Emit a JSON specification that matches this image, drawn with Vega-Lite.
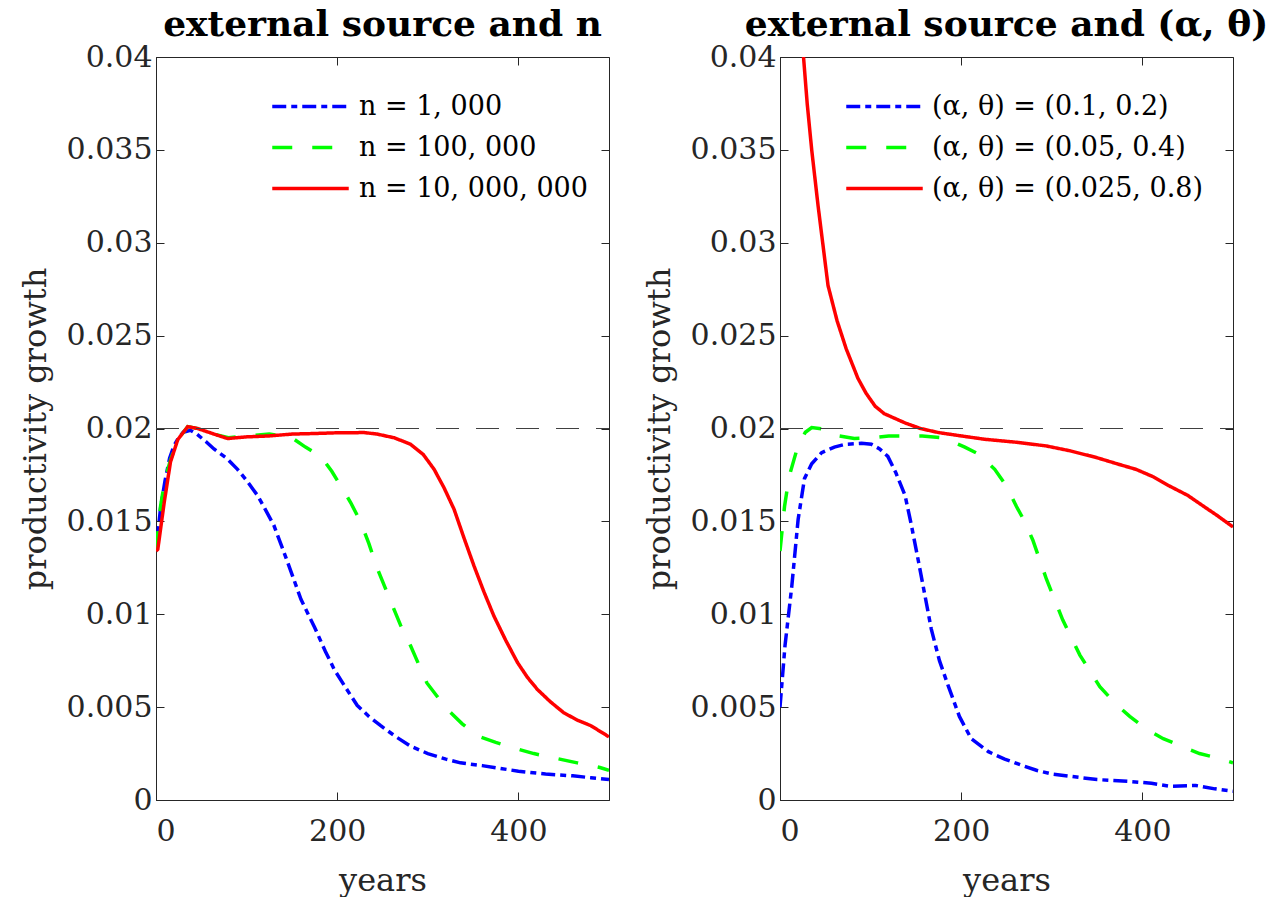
{
  "$schema": "https://vega.github.io/schema/vega-lite/v6.json",
  "background": "white",
  "padding": {"left": 18, "top": 6, "right": 5, "bottom": 0},
  "bounds": "flush",
  "spacing": 171,
  "config": {
    "font": "DejaVu Serif",
    "view": {"stroke": "#262626", "strokeWidth": 1},
    "axis": {
      "grid": false,
      "domainColor": "#262626",
      "tickColor": "#262626",
      "labelColor": "#262626",
      "titleColor": "#262626",
      "labelFont": "DejaVu Serif",
      "titleFont": "DejaVu Serif",
      "labelFontSize": 30,
      "titleFontSize": 32,
      "titleFontWeight": "normal",
      "tickSize": -8,
      "tickWidth": 1,
      "domainWidth": 1
    },
    "legend": {"labelLimit": 500},
    "title": {"font": "DejaVu Serif", "fontSize": 36, "fontWeight": "bold", "color": "#000000", "offset": -2}
  },
  "datasets": {
    "left": [
      {"s": "n = 1, 000", "year": 0, "g": 0.0134},
      {"s": "n = 1, 000", "year": 5, "g": 0.0157},
      {"s": "n = 1, 000", "year": 10, "g": 0.0172},
      {"s": "n = 1, 000", "year": 15, "g": 0.0184},
      {"s": "n = 1, 000", "year": 20, "g": 0.0191},
      {"s": "n = 1, 000", "year": 25, "g": 0.0195},
      {"s": "n = 1, 000", "year": 30, "g": 0.0198},
      {"s": "n = 1, 000", "year": 38, "g": 0.0199},
      {"s": "n = 1, 000", "year": 45, "g": 0.0197},
      {"s": "n = 1, 000", "year": 55, "g": 0.0193},
      {"s": "n = 1, 000", "year": 64, "g": 0.0189},
      {"s": "n = 1, 000", "year": 78, "g": 0.0184},
      {"s": "n = 1, 000", "year": 90, "g": 0.0178},
      {"s": "n = 1, 000", "year": 100, "g": 0.0172},
      {"s": "n = 1, 000", "year": 112, "g": 0.0164},
      {"s": "n = 1, 000", "year": 120, "g": 0.0157},
      {"s": "n = 1, 000", "year": 130, "g": 0.0148},
      {"s": "n = 1, 000", "year": 140, "g": 0.0135},
      {"s": "n = 1, 000", "year": 149, "g": 0.0123},
      {"s": "n = 1, 000", "year": 160, "g": 0.0108},
      {"s": "n = 1, 000", "year": 175, "g": 0.0093},
      {"s": "n = 1, 000", "year": 187, "g": 0.0080},
      {"s": "n = 1, 000", "year": 197, "g": 0.0070},
      {"s": "n = 1, 000", "year": 210, "g": 0.0060},
      {"s": "n = 1, 000", "year": 222, "g": 0.0051},
      {"s": "n = 1, 000", "year": 235, "g": 0.0045},
      {"s": "n = 1, 000", "year": 248, "g": 0.0040},
      {"s": "n = 1, 000", "year": 265, "g": 0.0034},
      {"s": "n = 1, 000", "year": 281, "g": 0.0029},
      {"s": "n = 1, 000", "year": 300, "g": 0.0025},
      {"s": "n = 1, 000", "year": 320, "g": 0.0022},
      {"s": "n = 1, 000", "year": 336, "g": 0.0020},
      {"s": "n = 1, 000", "year": 360, "g": 0.00185},
      {"s": "n = 1, 000", "year": 380, "g": 0.0017},
      {"s": "n = 1, 000", "year": 400, "g": 0.00155},
      {"s": "n = 1, 000", "year": 430, "g": 0.0014},
      {"s": "n = 1, 000", "year": 460, "g": 0.0013},
      {"s": "n = 1, 000", "year": 480, "g": 0.0012},
      {"s": "n = 1, 000", "year": 500, "g": 0.0011},

      {"s": "n = 100, 000", "year": 0, "g": 0.0134},
      {"s": "n = 100, 000", "year": 5, "g": 0.0158},
      {"s": "n = 100, 000", "year": 10, "g": 0.0173},
      {"s": "n = 100, 000", "year": 16, "g": 0.0183},
      {"s": "n = 100, 000", "year": 24, "g": 0.0194},
      {"s": "n = 100, 000", "year": 35, "g": 0.0201},
      {"s": "n = 100, 000", "year": 46, "g": 0.0200},
      {"s": "n = 100, 000", "year": 64, "g": 0.0197},
      {"s": "n = 100, 000", "year": 80, "g": 0.0195},
      {"s": "n = 100, 000", "year": 100, "g": 0.0196},
      {"s": "n = 100, 000", "year": 125, "g": 0.0197},
      {"s": "n = 100, 000", "year": 140, "g": 0.0196},
      {"s": "n = 100, 000", "year": 153, "g": 0.0194},
      {"s": "n = 100, 000", "year": 165, "g": 0.0190},
      {"s": "n = 100, 000", "year": 182, "g": 0.0185},
      {"s": "n = 100, 000", "year": 194, "g": 0.0177},
      {"s": "n = 100, 000", "year": 204, "g": 0.0169},
      {"s": "n = 100, 000", "year": 215, "g": 0.0160},
      {"s": "n = 100, 000", "year": 226, "g": 0.01495},
      {"s": "n = 100, 000", "year": 235, "g": 0.0138},
      {"s": "n = 100, 000", "year": 244, "g": 0.0125},
      {"s": "n = 100, 000", "year": 259, "g": 0.0107},
      {"s": "n = 100, 000", "year": 270, "g": 0.0094},
      {"s": "n = 100, 000", "year": 281, "g": 0.0083},
      {"s": "n = 100, 000", "year": 299, "g": 0.0063},
      {"s": "n = 100, 000", "year": 310, "g": 0.0056},
      {"s": "n = 100, 000", "year": 321, "g": 0.0049},
      {"s": "n = 100, 000", "year": 338, "g": 0.0041},
      {"s": "n = 100, 000", "year": 355, "g": 0.00344},
      {"s": "n = 100, 000", "year": 375, "g": 0.0031},
      {"s": "n = 100, 000", "year": 395, "g": 0.0028},
      {"s": "n = 100, 000", "year": 417, "g": 0.0025},
      {"s": "n = 100, 000", "year": 439, "g": 0.00227},
      {"s": "n = 100, 000", "year": 465, "g": 0.0020},
      {"s": "n = 100, 000", "year": 490, "g": 0.00175},
      {"s": "n = 100, 000", "year": 500, "g": 0.0016},

      {"s": "n = 10, 000, 000", "year": 0, "g": 0.0134},
      {"s": "n = 10, 000, 000", "year": 2, "g": 0.0135},
      {"s": "n = 10, 000, 000", "year": 9, "g": 0.0160},
      {"s": "n = 10, 000, 000", "year": 16, "g": 0.0182},
      {"s": "n = 10, 000, 000", "year": 24, "g": 0.0194},
      {"s": "n = 10, 000, 000", "year": 35, "g": 0.0201},
      {"s": "n = 10, 000, 000", "year": 46, "g": 0.0200},
      {"s": "n = 10, 000, 000", "year": 64, "g": 0.0197},
      {"s": "n = 10, 000, 000", "year": 79, "g": 0.01946},
      {"s": "n = 10, 000, 000", "year": 100, "g": 0.01955},
      {"s": "n = 10, 000, 000", "year": 125, "g": 0.0196},
      {"s": "n = 10, 000, 000", "year": 150, "g": 0.0197},
      {"s": "n = 10, 000, 000", "year": 175, "g": 0.01973},
      {"s": "n = 10, 000, 000", "year": 200, "g": 0.01977},
      {"s": "n = 10, 000, 000", "year": 230, "g": 0.01978},
      {"s": "n = 10, 000, 000", "year": 244, "g": 0.0197},
      {"s": "n = 10, 000, 000", "year": 263, "g": 0.0195},
      {"s": "n = 10, 000, 000", "year": 281, "g": 0.01915},
      {"s": "n = 10, 000, 000", "year": 295, "g": 0.0186},
      {"s": "n = 10, 000, 000", "year": 307, "g": 0.0178},
      {"s": "n = 10, 000, 000", "year": 318, "g": 0.0168},
      {"s": "n = 10, 000, 000", "year": 329, "g": 0.01565},
      {"s": "n = 10, 000, 000", "year": 340, "g": 0.0141},
      {"s": "n = 10, 000, 000", "year": 351, "g": 0.0126},
      {"s": "n = 10, 000, 000", "year": 362, "g": 0.0112},
      {"s": "n = 10, 000, 000", "year": 373, "g": 0.0099},
      {"s": "n = 10, 000, 000", "year": 386, "g": 0.0086},
      {"s": "n = 10, 000, 000", "year": 399, "g": 0.0074},
      {"s": "n = 10, 000, 000", "year": 410, "g": 0.0066},
      {"s": "n = 10, 000, 000", "year": 421, "g": 0.00595},
      {"s": "n = 10, 000, 000", "year": 435, "g": 0.0053},
      {"s": "n = 10, 000, 000", "year": 450, "g": 0.0047},
      {"s": "n = 10, 000, 000", "year": 465, "g": 0.0043},
      {"s": "n = 10, 000, 000", "year": 480, "g": 0.0040},
      {"s": "n = 10, 000, 000", "year": 500, "g": 0.0034}
    ],
    "right": [
      {"s": "(α, θ) = (0.1, 0.2)", "year": 0, "g": 0.0050},
      {"s": "(α, θ) = (0.1, 0.2)", "year": 5.5, "g": 0.0083},
      {"s": "(α, θ) = (0.1, 0.2)", "year": 13, "g": 0.0115},
      {"s": "(α, θ) = (0.1, 0.2)", "year": 20, "g": 0.0151},
      {"s": "(α, θ) = (0.1, 0.2)", "year": 27, "g": 0.0173},
      {"s": "(α, θ) = (0.1, 0.2)", "year": 35, "g": 0.0181},
      {"s": "(α, θ) = (0.1, 0.2)", "year": 46, "g": 0.0187},
      {"s": "(α, θ) = (0.1, 0.2)", "year": 60, "g": 0.0190},
      {"s": "(α, θ) = (0.1, 0.2)", "year": 72, "g": 0.01915},
      {"s": "(α, θ) = (0.1, 0.2)", "year": 90, "g": 0.0192},
      {"s": "(α, θ) = (0.1, 0.2)", "year": 101, "g": 0.01915},
      {"s": "(α, θ) = (0.1, 0.2)", "year": 110, "g": 0.0189},
      {"s": "(α, θ) = (0.1, 0.2)", "year": 119, "g": 0.0185},
      {"s": "(α, θ) = (0.1, 0.2)", "year": 128, "g": 0.0176},
      {"s": "(α, θ) = (0.1, 0.2)", "year": 138, "g": 0.0164},
      {"s": "(α, θ) = (0.1, 0.2)", "year": 145, "g": 0.0148},
      {"s": "(α, θ) = (0.1, 0.2)", "year": 153, "g": 0.0128},
      {"s": "(α, θ) = (0.1, 0.2)", "year": 160, "g": 0.0110},
      {"s": "(α, θ) = (0.1, 0.2)", "year": 167, "g": 0.0092},
      {"s": "(α, θ) = (0.1, 0.2)", "year": 176, "g": 0.0075},
      {"s": "(α, θ) = (0.1, 0.2)", "year": 186, "g": 0.0061},
      {"s": "(α, θ) = (0.1, 0.2)", "year": 198, "g": 0.0045},
      {"s": "(α, θ) = (0.1, 0.2)", "year": 211, "g": 0.0033},
      {"s": "(α, θ) = (0.1, 0.2)", "year": 230, "g": 0.0026},
      {"s": "(α, θ) = (0.1, 0.2)", "year": 248, "g": 0.0022},
      {"s": "(α, θ) = (0.1, 0.2)", "year": 265, "g": 0.0019},
      {"s": "(α, θ) = (0.1, 0.2)", "year": 283, "g": 0.0016},
      {"s": "(α, θ) = (0.1, 0.2)", "year": 300, "g": 0.0014},
      {"s": "(α, θ) = (0.1, 0.2)", "year": 320, "g": 0.00128},
      {"s": "(α, θ) = (0.1, 0.2)", "year": 350, "g": 0.0011},
      {"s": "(α, θ) = (0.1, 0.2)", "year": 385, "g": 0.0010},
      {"s": "(α, θ) = (0.1, 0.2)", "year": 410, "g": 0.0009},
      {"s": "(α, θ) = (0.1, 0.2)", "year": 430, "g": 0.00074},
      {"s": "(α, θ) = (0.1, 0.2)", "year": 459, "g": 0.00078},
      {"s": "(α, θ) = (0.1, 0.2)", "year": 480, "g": 0.0006},
      {"s": "(α, θ) = (0.1, 0.2)", "year": 500, "g": 0.00047},

      {"s": "(α, θ) = (0.05, 0.4)", "year": 0, "g": 0.0134},
      {"s": "(α, θ) = (0.05, 0.4)", "year": 5, "g": 0.0158},
      {"s": "(α, θ) = (0.05, 0.4)", "year": 10, "g": 0.0174},
      {"s": "(α, θ) = (0.05, 0.4)", "year": 20, "g": 0.0191},
      {"s": "(α, θ) = (0.05, 0.4)", "year": 28, "g": 0.0198},
      {"s": "(α, θ) = (0.05, 0.4)", "year": 35, "g": 0.02005},
      {"s": "(α, θ) = (0.05, 0.4)", "year": 49, "g": 0.01996},
      {"s": "(α, θ) = (0.05, 0.4)", "year": 65, "g": 0.0196},
      {"s": "(α, θ) = (0.05, 0.4)", "year": 82, "g": 0.01946},
      {"s": "(α, θ) = (0.05, 0.4)", "year": 100, "g": 0.0195},
      {"s": "(α, θ) = (0.05, 0.4)", "year": 120, "g": 0.0196},
      {"s": "(α, θ) = (0.05, 0.4)", "year": 137, "g": 0.0196},
      {"s": "(α, θ) = (0.05, 0.4)", "year": 157, "g": 0.0196},
      {"s": "(α, θ) = (0.05, 0.4)", "year": 180, "g": 0.0195},
      {"s": "(α, θ) = (0.05, 0.4)", "year": 204, "g": 0.0190},
      {"s": "(α, θ) = (0.05, 0.4)", "year": 220, "g": 0.0186},
      {"s": "(α, θ) = (0.05, 0.4)", "year": 237, "g": 0.0178},
      {"s": "(α, θ) = (0.05, 0.4)", "year": 250, "g": 0.0169},
      {"s": "(α, θ) = (0.05, 0.4)", "year": 261, "g": 0.0158},
      {"s": "(α, θ) = (0.05, 0.4)", "year": 270, "g": 0.0150},
      {"s": "(α, θ) = (0.05, 0.4)", "year": 279, "g": 0.0140},
      {"s": "(α, θ) = (0.05, 0.4)", "year": 294, "g": 0.0119},
      {"s": "(α, θ) = (0.05, 0.4)", "year": 312, "g": 0.0097},
      {"s": "(α, θ) = (0.05, 0.4)", "year": 331, "g": 0.0078},
      {"s": "(α, θ) = (0.05, 0.4)", "year": 353, "g": 0.0061},
      {"s": "(α, θ) = (0.05, 0.4)", "year": 370, "g": 0.0052},
      {"s": "(α, θ) = (0.05, 0.4)", "year": 386, "g": 0.0045},
      {"s": "(α, θ) = (0.05, 0.4)", "year": 405, "g": 0.0038},
      {"s": "(α, θ) = (0.05, 0.4)", "year": 423, "g": 0.0033},
      {"s": "(α, θ) = (0.05, 0.4)", "year": 443, "g": 0.0029},
      {"s": "(α, θ) = (0.05, 0.4)", "year": 463, "g": 0.0025},
      {"s": "(α, θ) = (0.05, 0.4)", "year": 480, "g": 0.0023},
      {"s": "(α, θ) = (0.05, 0.4)", "year": 500, "g": 0.0020},

      {"s": "(α, θ) = (0.025, 0.8)", "year": 20, "g": 0.047},
      {"s": "(α, θ) = (0.025, 0.8)", "year": 25.8, "g": 0.0401},
      {"s": "(α, θ) = (0.025, 0.8)", "year": 30, "g": 0.0375},
      {"s": "(α, θ) = (0.025, 0.8)", "year": 35, "g": 0.035},
      {"s": "(α, θ) = (0.025, 0.8)", "year": 42, "g": 0.032},
      {"s": "(α, θ) = (0.025, 0.8)", "year": 53, "g": 0.0277},
      {"s": "(α, θ) = (0.025, 0.8)", "year": 63, "g": 0.0258},
      {"s": "(α, θ) = (0.025, 0.8)", "year": 73, "g": 0.0243},
      {"s": "(α, θ) = (0.025, 0.8)", "year": 86, "g": 0.0227},
      {"s": "(α, θ) = (0.025, 0.8)", "year": 95, "g": 0.0219},
      {"s": "(α, θ) = (0.025, 0.8)", "year": 105, "g": 0.0212},
      {"s": "(α, θ) = (0.025, 0.8)", "year": 115, "g": 0.0208},
      {"s": "(α, θ) = (0.025, 0.8)", "year": 138, "g": 0.0203},
      {"s": "(α, θ) = (0.025, 0.8)", "year": 155, "g": 0.0200},
      {"s": "(α, θ) = (0.025, 0.8)", "year": 175, "g": 0.01978},
      {"s": "(α, θ) = (0.025, 0.8)", "year": 200, "g": 0.0196},
      {"s": "(α, θ) = (0.025, 0.8)", "year": 226, "g": 0.01942},
      {"s": "(α, θ) = (0.025, 0.8)", "year": 263, "g": 0.01925},
      {"s": "(α, θ) = (0.025, 0.8)", "year": 294, "g": 0.01906},
      {"s": "(α, θ) = (0.025, 0.8)", "year": 320, "g": 0.0188},
      {"s": "(α, θ) = (0.025, 0.8)", "year": 349, "g": 0.01844},
      {"s": "(α, θ) = (0.025, 0.8)", "year": 372, "g": 0.0181},
      {"s": "(α, θ) = (0.025, 0.8)", "year": 393, "g": 0.0178},
      {"s": "(α, θ) = (0.025, 0.8)", "year": 412, "g": 0.0174},
      {"s": "(α, θ) = (0.025, 0.8)", "year": 430, "g": 0.0169},
      {"s": "(α, θ) = (0.025, 0.8)", "year": 450, "g": 0.0164},
      {"s": "(α, θ) = (0.025, 0.8)", "year": 467, "g": 0.01583},
      {"s": "(α, θ) = (0.025, 0.8)", "year": 483, "g": 0.0153},
      {"s": "(α, θ) = (0.025, 0.8)", "year": 500, "g": 0.0147}
    ],
    "ref": [{"x0": 0, "x1": 500, "g": 0.02}]
  },
  "hconcat": [
    {
      "width": 453,
      "height": 743,
      "title": {"text": "external source and n"},
      "layer": [
        {
          "data": {"name": "left"},
          "mark": {"type": "line", "strokeWidth": 3.5, "clip": true},
          "encoding": {
            "x": {"field": "year", "type": "quantitative", "scale": {"domain": [0, 500], "nice": false}, "axis": {"values": [0, 200, 400], "title": "years", "labelPadding": 24, "titlePadding": 19}},
            "y": {"field": "g", "type": "quantitative", "scale": {"domain": [0, 0.04], "nice": false}, "axis": {"values": [0, 0.005, 0.01, 0.015, 0.02, 0.025, 0.03, 0.035, 0.04], "format": "~g", "title": "productivity growth", "labelPadding": 12, "titlePadding": 14}},
            "color": {"field": "s", "type": "nominal", "scale": {"domain": ["n = 1, 000", "n = 100, 000", "n = 10, 000, 000"], "range": ["#0000ff", "#00ff00", "#ff0000"]},
              "legend": {"title": null, "orient": "none", "legendX": 127, "legendY": 22, "symbolType": "M-1.5,0H1.5", "symbolSize": 2601, "symbolStrokeWidth": 3.5, "symbolFillColor": "transparent", "labelFontSize": 27, "labelFont": "DejaVu Serif", "labelColor": "#000000", "labelOffset": 21, "labelLimit": 500, "rowPadding": 0, "padding": 0}},
            "strokeDash": {"field": "s", "type": "nominal", "scale": {"domain": ["n = 1, 000", "n = 100, 000", "n = 10, 000, 000"], "range": [[14, 5, 6, 5], [20, 20], [1, 0]]},
              "legend": {"title": null, "orient": "none", "legendX": 127, "legendY": 22, "symbolType": "M-1.5,0H1.5", "symbolSize": 2601, "symbolStrokeWidth": 3.5, "symbolFillColor": "transparent", "labelFontSize": 27, "labelFont": "DejaVu Serif", "labelColor": "#000000", "labelOffset": 21, "labelLimit": 500, "rowPadding": 0, "padding": 0}}
          }
        },
        {
          "data": {"name": "ref"},
          "mark": {"type": "rule", "color": "#404040", "strokeWidth": 1.2, "strokeDash": [23, 17]},
          "encoding": {
            "x": {"field": "x0", "type": "quantitative", "axis": {"orient": "top", "values": [0, 200, 400], "labels": false, "title": null, "domain": false}},
            "x2": {"field": "x1"},
            "y": {"field": "g", "type": "quantitative", "axis": {"orient": "right", "values": [0, 0.005, 0.01, 0.015, 0.02, 0.025, 0.03, 0.035, 0.04], "labels": false, "title": null, "domain": false}}
          }
        }
      ],
      "resolve": {"axis": {"x": "independent", "y": "independent"}}
    },
    {
      "width": 453,
      "height": 743,
      "title": {"text": "external source and (α, θ)"},
      "layer": [
        {
          "data": {"name": "right"},
          "mark": {"type": "line", "strokeWidth": 3.5, "clip": true},
          "encoding": {
            "x": {"field": "year", "type": "quantitative", "scale": {"domain": [0, 500], "nice": false}, "axis": {"values": [0, 200, 400], "title": "years", "labelPadding": 24, "titlePadding": 19}},
            "y": {"field": "g", "type": "quantitative", "scale": {"domain": [0, 0.04], "nice": false}, "axis": {"values": [0, 0.005, 0.01, 0.015, 0.02, 0.025, 0.03, 0.035, 0.04], "format": "~g", "title": "productivity growth", "labelPadding": 12, "titlePadding": 14}},
            "color": {"field": "s", "type": "nominal", "scale": {"domain": ["(α, θ) = (0.1, 0.2)", "(α, θ) = (0.05, 0.4)", "(α, θ) = (0.025, 0.8)"], "range": ["#0000ff", "#00ff00", "#ff0000"]},
              "legend": {"title": null, "orient": "none", "legendX": 77, "legendY": 22, "symbolType": "M-1.5,0H1.5", "symbolSize": 2601, "symbolStrokeWidth": 3.5, "symbolFillColor": "transparent", "labelFontSize": 27, "labelFont": "DejaVu Serif", "labelColor": "#000000", "labelOffset": 20, "labelLimit": 500, "rowPadding": 0, "padding": 0}},
            "strokeDash": {"field": "s", "type": "nominal", "scale": {"domain": ["(α, θ) = (0.1, 0.2)", "(α, θ) = (0.05, 0.4)", "(α, θ) = (0.025, 0.8)"], "range": [[14, 5, 6, 5], [20, 20], [1, 0]]},
              "legend": {"title": null, "orient": "none", "legendX": 77, "legendY": 22, "symbolType": "M-1.5,0H1.5", "symbolSize": 2601, "symbolStrokeWidth": 3.5, "symbolFillColor": "transparent", "labelFontSize": 27, "labelFont": "DejaVu Serif", "labelColor": "#000000", "labelOffset": 20, "labelLimit": 500, "rowPadding": 0, "padding": 0}}
          }
        },
        {
          "data": {"name": "ref"},
          "mark": {"type": "rule", "color": "#404040", "strokeWidth": 1.2, "strokeDash": [23, 17]},
          "encoding": {
            "x": {"field": "x0", "type": "quantitative", "axis": {"orient": "top", "values": [0, 200, 400], "labels": false, "title": null, "domain": false}},
            "x2": {"field": "x1"},
            "y": {"field": "g", "type": "quantitative", "axis": {"orient": "right", "values": [0, 0.005, 0.01, 0.015, 0.02, 0.025, 0.03, 0.035, 0.04], "labels": false, "title": null, "domain": false}}
          }
        }
      ],
      "resolve": {"axis": {"x": "independent", "y": "independent"}}
    }
  ],
  "resolve": {"scale": {"color": "independent", "strokeDash": "independent"}, "legend": {"color": "independent", "strokeDash": "independent"}}
}
